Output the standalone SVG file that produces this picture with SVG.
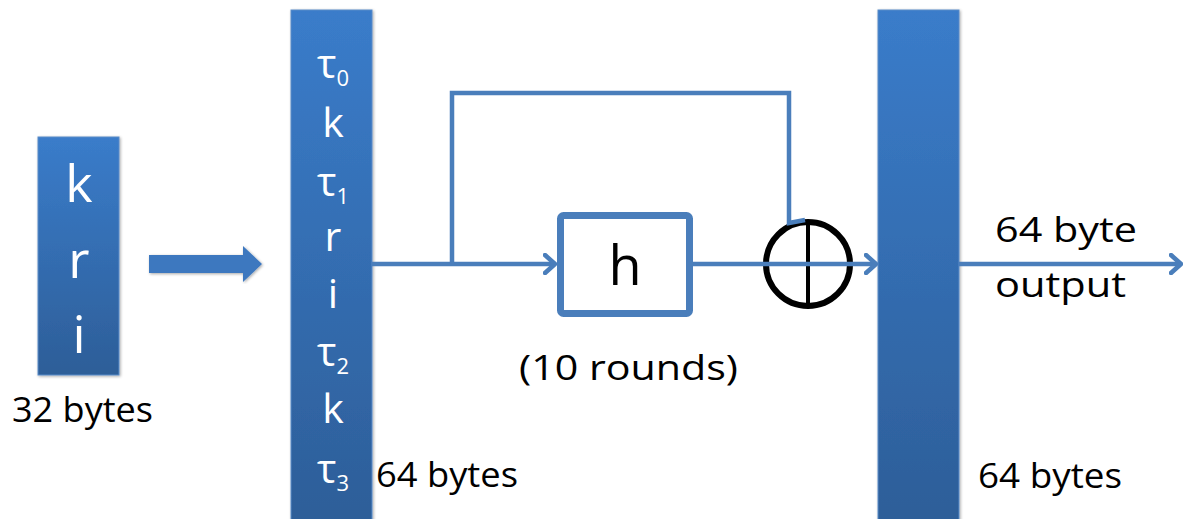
<svg xmlns="http://www.w3.org/2000/svg" width="1183" height="519" viewBox="0 0 1183 519">
  <defs>
    <linearGradient id="barFill" x1="0" y1="0" x2="0" y2="1">
      <stop offset="0" stop-color="#3A7CCA"/>
      <stop offset="1" stop-color="#2D5E98"/>
    </linearGradient>
    <filter id="shade" x="-20%" y="-5%" width="140%" height="110%">
      <feGaussianBlur in="SourceAlpha" stdDeviation="1.5"/>
      <feOffset dx="1" dy="1" result="b"/>
      <feComponentTransfer><feFuncA type="linear" slope="0.35"/></feComponentTransfer>
      <feMerge><feMergeNode/><feMergeNode in="SourceGraphic"/></feMerge>
    </filter>
    <marker id="chevron" viewBox="0 0 14 22" refX="12" refY="11" markerWidth="14" markerHeight="22" markerUnits="userSpaceOnUse" orient="auto">
      <path d="M2,2 L12,11 L2,20" fill="none" stroke="#4A7EBB" stroke-width="4.5" stroke-linecap="round" stroke-linejoin="round"/>
    </marker>
  </defs>
  <style>
    .bar { fill: url(#barFill); stroke: #5A8BC8; stroke-width: 1; }
    .wlabel { font-family: "Open Sans", "Liberation Sans", sans-serif; fill: #FFFFFF; text-anchor: middle; }
    .label { font-family: "Open Sans", "Liberation Sans", sans-serif; fill: #000000; font-size: 35px; }
    .wire { fill: none; stroke: #4A7EBB; stroke-width: 4.5; }
    .sub { font-size: 22px; }
  </style>

  <rect width="1183" height="519" fill="#FFFFFF"/>

  <!-- 32-byte input block -->
  <g id="input-block">
    <rect class="bar" x="38" y="137" width="81" height="238" filter="url(#shade)"/>
    <text class="wlabel" x="79" y="202" font-size="52">k</text>
    <text class="wlabel" x="79" y="278" font-size="52">r</text>
    <text class="wlabel" x="79" y="353" font-size="52">i</text>
    <text class="label" x="12" y="422" textLength="141" lengthAdjust="spacingAndGlyphs">32 bytes</text>
  </g>

  <!-- expansion arrow -->
  <g id="expand-arrow">
    <path d="M149,255 H243 V246 L262,264 L243,282 V273 H149 Z" fill="#3E78BF" filter="url(#shade)"/>
  </g>

  <!-- 64-byte state -->
  <g id="state-block">
    <rect class="bar" x="291" y="10" width="81" height="515" filter="url(#shade)"/>
    <g class="wlabel" font-size="41">
      <text x="333" y="78">τ<tspan class="sub" dy="8">0</tspan></text>
      <text x="333" y="137">k</text>
      <text x="333" y="196">τ<tspan class="sub" dy="8">1</tspan></text>
      <text x="333" y="251">r</text>
      <text x="333" y="308">i</text>
      <text x="333" y="366">τ<tspan class="sub" dy="8">2</tspan></text>
      <text x="333" y="423">k</text>
      <text x="333" y="483">τ<tspan class="sub" dy="8">3</tspan></text>
    </g>
    <text class="label" x="376" y="487" textLength="142" lengthAdjust="spacingAndGlyphs">64 bytes</text>
  </g>

  <!-- round function -->
  <g id="h-box">
    <rect x="560.5" y="215.5" width="129" height="98" rx="3" fill="#FFFFFF" stroke="#4A7EBB" stroke-width="7"/>
    <text x="625" y="285" font-family="Open Sans, Liberation Sans, sans-serif" font-size="54" text-anchor="middle" fill="#000000">h</text>
    <text class="label" x="519" y="380" textLength="219" lengthAdjust="spacingAndGlyphs">(10 rounds)</text>
  </g>

  <!-- xor -->
  <g id="xor">
    <circle cx="808" cy="264" r="42" fill="none" stroke="#000000" stroke-width="6"/>
    <line x1="808" y1="222" x2="808" y2="306" stroke="#000000" stroke-width="4"/>
  </g>

  <!-- 64-byte output -->
  <g id="output-block">
    <rect class="bar" x="878" y="10" width="81" height="515" filter="url(#shade)"/>
    <text class="label" x="995" y="242" textLength="142" lengthAdjust="spacingAndGlyphs">64 byte</text>
    <text class="label" x="995" y="297" textLength="131" lengthAdjust="spacingAndGlyphs">output</text>
    <text class="label" x="978" y="488" textLength="144" lengthAdjust="spacingAndGlyphs">64 bytes</text>
  </g>

  <!-- connectors -->
  <g id="connectors">
    <path class="wire" d="M372,264 H555" marker-end="url(#chevron)"/>
    <path class="wire" d="M452,264 V93 H789 V223 L805,220"/>
    <path class="wire" d="M693,264 H876" marker-end="url(#chevron)"/>
    <path class="wire" d="M959,264 H1181" marker-end="url(#chevron)"/>
  </g>
</svg>
